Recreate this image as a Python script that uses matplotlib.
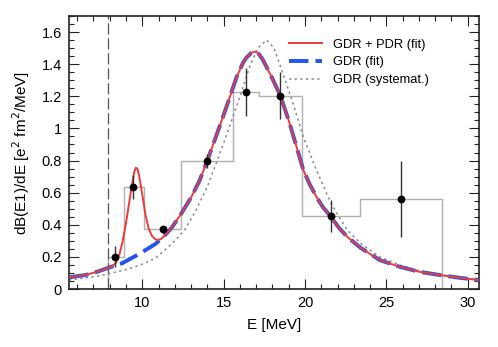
import numpy as np
import matplotlib
matplotlib.use("Agg")
import matplotlib.pyplot as plt
from matplotlib.ticker import MultipleLocator, FuncFormatter

plt.rcParams['font.family'] = ['Liberation Sans', 'DejaVu Sans']

# measured points (E [MeV], dB/dE, error)
pt_E = [8.35, 9.45, 11.27, 13.97, 16.36, 18.47, 21.6, 25.89]
pt_val = [0.20, 0.637, 0.372, 0.797, 1.228, 1.204, 0.455, 0.56]
pt_err = [0.065, 0.075, 0.02, 0.045, 0.15, 0.146, 0.10, 0.235]

# histogram (bin edges and contents)
hist_edges = [7.9, 8.88, 10.08, 12.4, 15.55, 17.2, 19.8, 23.37, 28.42]
hist_val = [0.20, 0.637, 0.372, 0.797, 1.228, 1.204, 0.455, 0.56]

# GDR fit
gdr_E = [5.5, 6.5, 7.3, 7.9, 8.75, 9.77, 10.8, 11.3, 11.8, 12.4, 13.0, 13.5,
         14.0, 14.5, 15.0, 15.4, 15.8, 16.2, 16.4, 16.7, 16.9, 17.1, 17.4,
         17.6, 18.0, 18.5, 19.0, 19.3, 19.9, 20.3, 20.7, 21.1, 21.6, 22.1,
         22.6, 23.4, 24.6, 25.8, 27.0, 28.3, 29.5, 30.7]
gdr_val = [0.073, 0.087, 0.11, 0.132, 0.16, 0.216, 0.28, 0.325, 0.38, 0.47,
           0.57, 0.67, 0.80, 0.94, 1.083, 1.20, 1.32, 1.41, 1.44, 1.47, 1.478,
           1.472, 1.43, 1.39, 1.31, 1.20, 1.05, 0.948, 0.741, 0.65, 0.575,
           0.51, 0.45, 0.38, 0.325, 0.258, 0.18, 0.139, 0.108, 0.087, 0.07,
           0.056]

# GDR + PDR fit in the PDR region (elsewhere equal to GDR)
pdr_E = [8.0, 8.2, 8.4, 8.6, 8.8, 9.0, 9.2, 9.4, 9.5, 9.6, 9.7, 9.8, 10.0,
         10.2, 10.4, 10.6, 10.8, 11.0, 11.2]
pdr_val = [0.136, 0.146, 0.165, 0.215, 0.30, 0.41, 0.54, 0.67, 0.725, 0.755,
           0.75, 0.71, 0.59, 0.46, 0.375, 0.33, 0.31, 0.305, 0.315]

# GDR systematics
sys_E = [5.5, 7.3, 8.75, 9.77, 10.8, 11.8, 12.6, 13.3, 14.0, 15.0, 16.0,
         16.6, 17.1, 17.65, 18.1, 18.5, 19.1, 19.9, 20.7, 21.6, 22.15, 22.6,
         23.4, 24.6, 25.8, 27.0, 28.3, 29.5, 30.7]
sys_val = [0.056, 0.081, 0.114, 0.145, 0.191, 0.28, 0.367, 0.49, 0.637,
           0.907, 1.197, 1.384, 1.50, 1.55, 1.50, 1.384, 1.208, 0.948, 0.741,
           0.535, 0.44, 0.367, 0.285, 0.20, 0.15, 0.115, 0.09, 0.072, 0.058]

threshold = 7.9

fig = plt.figure(figsize=(4.98, 3.47), dpi=100)
ax = fig.add_axes([0.1386, 0.167, 0.8234, 0.787])

# histogram
hx = [hist_edges[0]]
hy = [0]
for i, v in enumerate(hist_val):
    hx += [hist_edges[i], hist_edges[i + 1]]
    hy += [v, v]
hx.append(hist_edges[-1])
hy.append(0)
ax.plot(hx, hy, color='#b0b0b0', lw=1.0, zorder=1)

# threshold line
ax.axvline(threshold, color='#555555', lw=0.9, dashes=(9, 3), zorder=1)

# curves
ax.plot(sys_E, sys_val, color='#888888', lw=1.1, dashes=(1.5, 2.2),
        label='GDR (systemat.)', zorder=2)
red_E = [e for e in gdr_E if e < pdr_E[0]] + pdr_E + [e for e in gdr_E if e > pdr_E[-1]]
red_val = [v for e, v in zip(gdr_E, gdr_val) if e < pdr_E[0]] + pdr_val + \
          [v for e, v in zip(gdr_E, gdr_val) if e > pdr_E[-1]]
ax.plot(gdr_E, gdr_val, color='#2255ee', lw=2.8, dashes=(5, 1.8),
        label='GDR (fit)', zorder=3)
ax.plot(red_E, red_val, color='#ee3a3a', lw=1.4, label='GDR + PDR (fit)',
        zorder=4)

ax.errorbar(pt_E, pt_val, yerr=pt_err, fmt='o', color='black', ms=4.6,
            ecolor='#333333', elinewidth=1.0, capsize=0, zorder=5)

ax.set_xlim(5.5, 30.7)
ax.set_ylim(0, 1.7)
ax.xaxis.set_major_locator(MultipleLocator(5))
ax.xaxis.set_minor_locator(MultipleLocator(1))
ax.yaxis.set_major_locator(MultipleLocator(0.2))
ax.yaxis.set_minor_locator(MultipleLocator(0.05))
ax.yaxis.set_major_formatter(FuncFormatter(lambda v, p: ('%g' % round(v, 2))))
ax.tick_params(which='both', direction='in', top=True, right=True,
               labelsize=10.5, width=0.8, color='#222222', pad=5)
ax.tick_params(which='major', length=7)
ax.tick_params(which='minor', length=3.5)
for s in ax.spines.values():
    s.set_linewidth(1.2)
    s.set_color('#222222')

ax.set_xlabel('E [MeV]', fontsize=11, labelpad=6)
ax.set_ylabel(r'dB(E1)/dE [e$^2$ fm$^2$/MeV]', fontsize=11, labelpad=7)

h, l = ax.get_legend_handles_labels()
order = [2, 1, 0]
ax.legend([h[i] for i in order], [l[i] for i in order], loc='upper right',
          bbox_to_anchor=(0.905, 0.96), frameon=False, fontsize=9.3,
          handlelength=2.6, labelspacing=0.45)

fig.savefig('out.png', dpi=100)
